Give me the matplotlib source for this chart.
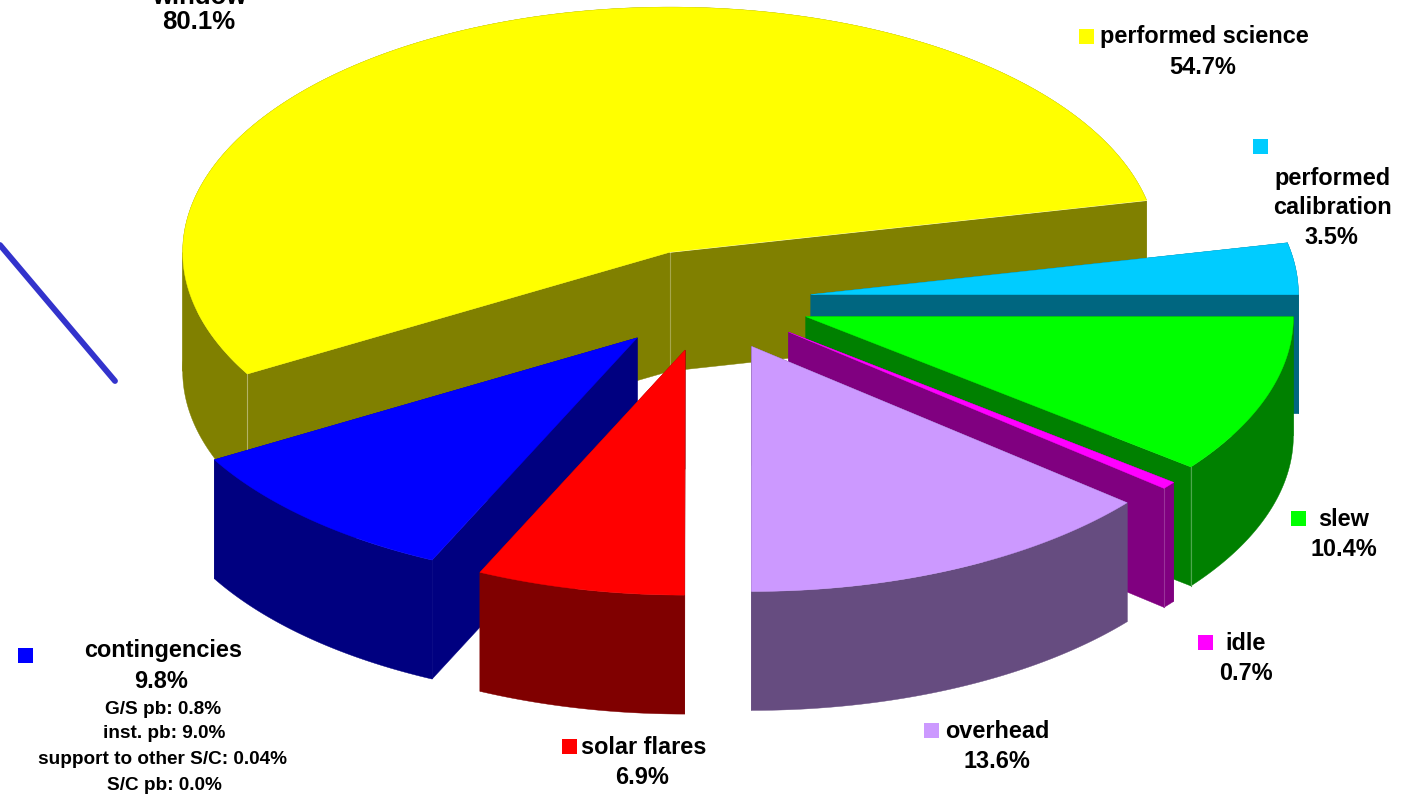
import numpy as np
import matplotlib
matplotlib.use('Agg')
import matplotlib.pyplot as plt
from matplotlib.patches import Polygon, Rectangle

plt.rcParams['font.family'] = ['Liberation Sans', 'DejaVu Sans']

# wedge sizes in %, the printed labels are below
names = ['performed science', 'contingencies', 'solar flares', 'overhead', 'idle', 'slew', 'performed calibration']
values = [54.9, 9.8, 6.9, 14.0, 0.5, 10.5, 3.4]
top_colors = ['#FFFF00', '#0000FF', '#FF0000', '#CC99FF', '#FF00FF', '#00FF00', '#00CCFF']
side_colors = ['#808000', '#000080', '#800000', '#664C80', '#800080', '#008000', '#006680']

labels = [
    ('window', 199, -3, 18.5), ('80.1%', 199, 22, 18.5),
    ('performed science', 1204, 37, 16.9), ('54.7%', 1203, 67, 16.9),
    ('performed', 1333, 178, 16.9), ('calibration', 1333, 208, 16.9), ('3.5%', 1331, 238, 16.9),
    ('slew', 1344, 519, 16.9), ('10.4%', 1344, 549, 16.9),
    ('idle', 1246, 643, 16.9), ('0.7%', 1246, 673, 16.9),
    ('overhead', 997, 731, 16.9), ('13.6%', 997, 761, 16.9),
    ('solar flares', 644, 747, 16.9), ('6.9%', 642, 778, 16.9),
    ('contingencies', 163, 651, 16.9), ('9.8%', 161, 682, 16.9),
    ('G/S pb: 0.8%', 163, 710, 13.7), ('inst. pb: 9.0%', 164, 734, 13.7),
    ('support to other S/C: 0.04%', 163, 759, 13.7), ('S/C pb: 0.0%', 164, 785, 13.7),
]
key_names = ['performed science', 'performed calibration', 'slew', 'idle', 'overhead', 'solar flares', 'contingencies']
key_x = [1086, 1260, 1298, 1205, 931, 569, 25]
key_y = [36, 146, 518, 642, 730, 746, 655]

# projection of the pie, in pixels
cx, cy = 707.5, 300
rx, ry = 487.5, 245
ex, ey = 104, 51.3
depth = 119
start = 12.2

fig = plt.figure(figsize=(14.05, 7.95), dpi=100)
ax = fig.add_axes([0, 0, 1, 1])
ax.set_xlim(0, 1405)
ax.set_ylim(795, 0)
ax.axis('off')


def fill(pts, color, z):
    ax.add_patch(Polygon(pts, closed=True, facecolor=color, edgecolor=color, lw=0.3, zorder=z))


spans = np.array(values) / sum(values) * 360
ends = start + np.cumsum(spans)
starts = ends - spans

# back to front
order = [0, 6, 5, 4, 3, 1, 2]
for z, i in enumerate(order):
    mid = np.radians((starts[i] + ends[i]) / 2)
    x0 = cx + ex * np.cos(mid)
    y0 = cy - ey * np.sin(mid)
    t = np.radians(np.linspace(starts[i], ends[i], 240))
    xs = x0 + rx * np.cos(t)
    ys = y0 - ry * np.sin(t)

    # side walls: rim band, split where the rim turns (one polygon would cancel out at the fold)
    back = np.sin(t) >= 0
    cuts = [0] + list(np.where(back[1:] != back[:-1])[0] + 1) + [len(t) - 1]
    for a, b in zip(cuts[:-1], cuts[1:]):
        px, py = xs[a:b + 1], ys[a:b + 1]
        fill(np.r_[np.c_[px, py], np.c_[px, py + depth][::-1]], side_colors[i], z * 3 + 1)
    fill([(x0, y0), (xs[0], ys[0]), (xs[0], ys[0] + depth), (x0, y0 + depth)], side_colors[i], z * 3 + 1)
    fill([(x0, y0), (xs[-1], ys[-1]), (xs[-1], ys[-1] + depth), (x0, y0 + depth)], side_colors[i], z * 3 + 1)

    # thin light seams at the wall corners
    if names[i] == 'performed science':
        ax.plot([x0, x0], [y0, y0 + depth], color='#A6A64D', lw=0.8, zorder=z * 3 + 2)
        ax.plot([xs[-1], xs[-1]], [ys[-1], ys[-1] + depth], color='#B3B366', lw=0.8, zorder=z * 3 + 2)
        ax.plot([x0, xs[0]], [y0, ys[0]], color='white', lw=0.8, zorder=z * 3 + 2)
        ax.plot([xs[0], xs[0]], [ys[0], ys[0] + depth], color='white', lw=0.8, zorder=z * 3 + 2)
    if names[i] == 'slew':
        ax.plot([xs[0], xs[0]], [ys[0], ys[0] + depth], color='#4DA64D', lw=0.8, zorder=z * 3 + 2)
    if names[i] == 'idle':
        ax.plot([xs[0], xs[0]], [ys[0], ys[0] + depth], color='#993399', lw=0.8, zorder=z * 3 + 2)

    fill(np.r_[[(x0, y0)], np.c_[xs, ys]], top_colors[i], z * 3 + 3)

# stray line left over on the slide
ax.plot([0, 115], [245, 381], color='#3333CC', lw=4.2, solid_capstyle='round', zorder=30)

for name, kx, ky in zip(key_names, key_x, key_y):
    c = top_colors[names.index(name)]
    ax.add_patch(Rectangle((kx - 7.5, ky - 7.5), 15, 15, facecolor=c, edgecolor='none', zorder=30))

for s, x, y, size in labels:
    ax.text(x, y, s, ha='center', va='center', fontsize=size, fontweight='bold', color='black', zorder=31)

fig.savefig('out.png', dpi=100, facecolor='white')
plt.close(fig)
